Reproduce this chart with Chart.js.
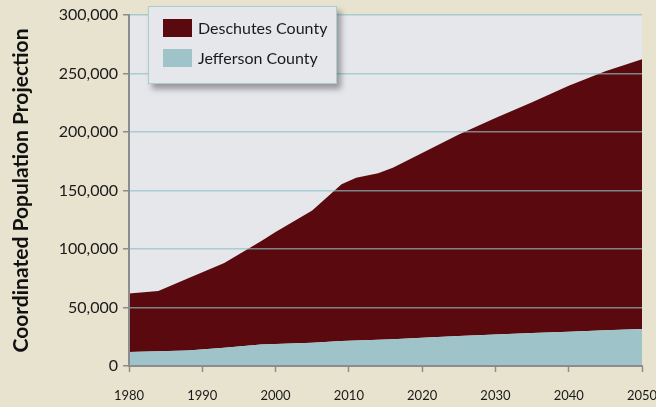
<!DOCTYPE html>
<html>
<head>
<meta charset="utf-8">
<script src="https://cdn.jsdelivr.net/npm/chart.js@4/dist/chart.umd.min.js"></script>
<style>
  html, body { margin: 0; padding: 0; background: #e8e3cf; }
  #wrap { position: relative; width: 656px; height: 407px; }
  #legend {
    position: absolute; left: 148px; top: 6px; width: 187px; height: 76px;
    background: #e6e7eb; border: 1.5px solid #a9ced2;
    box-shadow: 4px 5px 6px rgba(0, 0, 0, 0.35);
    font-family: Lato, 'Open Sans', sans-serif; font-size: 16px; color: #1a1a1a;
  }
  .item { position: absolute; left: 14px; height: 18px; line-height: 18px; white-space: nowrap; }
  .swatch { display: inline-block; width: 29px; height: 18px; vertical-align: top; margin-right: 6px; }
</style>
</head>
<body>
<div id="wrap">
  <canvas id="chart" width="656" height="407"></canvas>
  <div id="legend"></div>
</div>
<script>
// Anos dos pontos (eixo linear) e valores
const years = [1980, 1984, 1988, 1993, 1998, 2000, 2005, 2009, 2011, 2014, 2016, 2020, 2025, 2030, 2035, 2040, 2045, 2050];
const jeffersonValues = [12000, 12600, 13200, 15500, 18300, 18900, 19900, 21300, 21800, 22400, 22800, 24200, 25600, 27000, 28100, 29300, 30600, 31700];
const deschutesValues = [50000, 51600, 61600, 72500, 88400, 95700, 113100, 134100, 139200, 142400, 146700, 157800, 172300, 185000, 197400, 210200, 221300, 230400];
const seriesNames = ['Jefferson County', 'Deschutes County'];
const seriesColors = ['#9ec4c9', '#5a0a0e'];
const yTicks = [0, 50000, 100000, 150000, 200000, 250000, 300000];
const xTicks = [1980, 1990, 2000, 2010, 2020, 2030, 2040, 2050];

const FONT = "Lato, 'Open Sans', sans-serif";
const AXIS_GRAY = '#8c8c8c';

// fundo cinza da area de plotagem
const plotBg = {
    id: 'plotBg',
    beforeDraw(chart) {
        const { ctx, chartArea: a } = chart;
        ctx.save();
        ctx.fillStyle = '#e6e7eb';
        ctx.fillRect(a.left, a.top, a.right - a.left, a.bottom - a.top);
        ctx.restore();
    }
};

const toPoints = (vals) => years.map((y, i) => ({ x: y, y: vals[i] }));

const chart = new Chart(document.getElementById('chart'), {
    type: 'line',
    data: {
        datasets: [
            {
                label: seriesNames[0],
                data: toPoints(jeffersonValues),
                backgroundColor: seriesColors[0],
                borderWidth: 0,
                pointRadius: 0,
                fill: 'origin'
            },
            {
                label: seriesNames[1],
                data: toPoints(deschutesValues),
                backgroundColor: seriesColors[1],
                borderWidth: 0,
                pointRadius: 0,
                fill: '-1'
            }
        ]
    },
    options: {
        responsive: false,
        animation: false,
        layout: { padding: { top: 15, right: 14, left: 0, bottom: 0 } },
        plugins: { legend: { display: false }, tooltip: { enabled: false } },
        scales: {
            x: {
                type: 'linear',
                min: xTicks[0],
                max: xTicks[xTicks.length - 1],
                afterBuildTicks: (s) => { s.ticks = xTicks.map(v => ({ value: v })); },
                afterFit: (s) => { s.height = 41; s.paddingLeft = 0; s.paddingRight = 0; },
                grid: { drawOnChartArea: false, drawTicks: true, tickLength: 6, tickColor: AXIS_GRAY, tickWidth: 1.5 },
                border: { color: AXIS_GRAY, width: 2, z: 1 },
                ticks: {
                    callback: (v) => String(v),
                    maxRotation: 0,
                    autoSkip: false,
                    padding: 16,
                    color: '#1a1a1a',
                    font: { family: FONT, size: 13 }
                }
            },
            y: {
                stacked: true,
                min: 0,
                max: yTicks[yTicks.length - 1],
                afterBuildTicks: (s) => { s.ticks = yTicks.map(v => ({ value: v })); },
                afterFit: (s) => { s.width = 129; },
                grid: {
                    z: 1,
                    color: (c) => c.tick && c.tick.value === 0 ? 'rgba(0,0,0,0)' : 'rgba(140,193,197,0.68)',
                    lineWidth: 1.5,
                    drawTicks: true,
                    tickLength: 6,
                    tickColor: AXIS_GRAY,
                    tickWidth: 1.5
                },
                border: { color: AXIS_GRAY, width: 2, z: 1 },
                ticks: {
                    callback: (v) => v.toLocaleString('en-US'),
                    padding: 5,
                    color: '#1a1a1a',
                    font: { family: FONT, size: 16 }
                },
                title: {
                    display: true,
                    text: 'Coordinated Population Projection',
                    color: '#111',
                    font: { family: FONT, size: 21, weight: 'bold' },
                    padding: { top: 9, bottom: 0 }
                }
            }
        }
    },
    plugins: [plotBg]
});

// legenda em HTML, na ordem inversa (serie de cima primeiro)
function buildLegend() {
    const box = document.getElementById('legend');
    box.innerHTML = '';
    chart.data.datasets.slice().reverse().forEach((ds, i) => {
        const row = document.createElement('div');
        row.className = 'item';
        row.style.top = (12 + i * 30) + 'px';
        row.innerHTML = `<span class="swatch" style="background:${ds.backgroundColor}"></span>${ds.label}`;
        box.appendChild(row);
    });
}
buildLegend();
</script>
</body>
</html>
